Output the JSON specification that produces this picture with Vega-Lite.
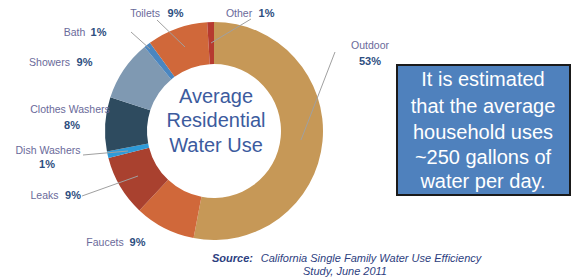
{
  "$schema": "https://vega.github.io/schema/vega-lite/v6.json",
  "width": 572,
  "height": 280,
  "autosize": {"type": "fit", "contains": "padding"},
  "padding": 0,
  "background": "white",
  "config": {"view": {"stroke": null}, "font": "Liberation Sans"},
  "datasets": {
    "slices": [
      {"name": "Outdoor", "value": 53, "order": 1},
      {"name": "Faucets", "value": 9, "order": 2},
      {"name": "Leaks", "value": 9, "order": 3},
      {"name": "Dish Washers", "value": 1, "order": 4},
      {"name": "Clothes Washers", "value": 8, "order": 5},
      {"name": "Showers", "value": 9, "order": 6},
      {"name": "Bath", "value": 1, "order": 7},
      {"name": "Toilets", "value": 9, "order": 8},
      {"name": "Other", "value": 1, "order": 9}
    ],
    "names": [
      {"text": "Toilets", "x": 145, "y": 14},
      {"text": "Other", "x": 239, "y": 14},
      {"text": "Bath", "x": 74.5, "y": 33},
      {"text": "Showers", "x": 49.5, "y": 63},
      {"text": "Clothes Washers", "x": 70, "y": 110},
      {"text": "Dish Washers", "x": 48, "y": 151},
      {"text": "Leaks", "x": 44.5, "y": 196},
      {"text": "Faucets", "x": 105, "y": 243},
      {"text": "Outdoor", "x": 370, "y": 46}
    ],
    "pcts": [
      {"text": "9%", "x": 175.5, "y": 14},
      {"text": "1%", "x": 266.5, "y": 14},
      {"text": "1%", "x": 98.5, "y": 33},
      {"text": "9%", "x": 84.5, "y": 63},
      {"text": "8%", "x": 72, "y": 126},
      {"text": "1%", "x": 47, "y": 165},
      {"text": "9%", "x": 73, "y": 196},
      {"text": "9%", "x": 137.5, "y": 243},
      {"text": "53%", "x": 370, "y": 62}
    ],
    "leaders": [
      {"x": 335, "y": 52, "x2": 301, "y2": 140},
      {"x": 251, "y": 19, "x2": 211, "y2": 43},
      {"x": 157, "y": 20, "x2": 185, "y2": 47},
      {"x": 131, "y": 32, "x2": 150, "y2": 49},
      {"x": 83, "y": 155, "x2": 128, "y2": 151},
      {"x": 82, "y": 196, "x2": 138, "y2": 176}
    ],
    "center": [
      {"text": "Average", "x": 216, "y": 97},
      {"text": "Residential", "x": 216, "y": 121},
      {"text": "Water Use", "x": 216, "y": 146}
    ],
    "box": [{"x": 397, "y": 65, "x2": 570, "y2": 195}],
    "boxlines": [
      {"text": "It is estimated", "x": 483, "y": 80},
      {"text": "that the average", "x": 483, "y": 107},
      {"text": "household uses", "x": 483, "y": 133},
      {"text": "~250 gallons of", "x": 483, "y": 158},
      {"text": "water per day.", "x": 483, "y": 182}
    ],
    "sourcehead": [
      {"text": "Source:", "x": 232.5, "y": 259}
    ],
    "source": [
      {"text": "California Single Family Water Use Efficiency", "x": 371, "y": 259},
      {"text": "Study, June 2011", "x": 345, "y": 272}
    ]
  },
  "layer": [
    {
      "data": {"name": "slices"},
      "mark": {"type": "arc", "innerRadius": 67, "outerRadius": 109},
      "encoding": {
        "x": {"datum": 214, "type": "quantitative", "scale": {"domain": [0, 572], "nice": false, "zero": false}, "axis": null},
        "y": {"datum": 131, "type": "quantitative", "scale": {"domain": [0, 280], "nice": false, "zero": false, "reverse": true}, "axis": null},
        "theta": {"field": "value", "type": "quantitative", "stack": true},
        "order": {"field": "order", "type": "quantitative"},
        "color": {
          "field": "name", "type": "nominal", "legend": null,
          "scale": {
            "domain": ["Outdoor", "Faucets", "Leaks", "Dish Washers", "Clothes Washers", "Showers", "Bath", "Toilets", "Other"],
            "range": ["#C69857", "#D0683A", "#A9412F", "#2E9AD8", "#2E4B5F", "#7F99B2", "#4A86C0", "#D0683A", "#B63A30"]
          }
        }
      }
    },
    {
      "data": {"name": "leaders"},
      "mark": {"type": "rule", "color": "#A0A0A0", "strokeWidth": 1},
      "encoding": {
        "x": {"field": "x", "type": "quantitative"},
        "y": {"field": "y", "type": "quantitative"},
        "x2": {"field": "x2"},
        "y2": {"field": "y2"}
      }
    },
    {
      "data": {"name": "names"},
      "mark": {"type": "text", "fontSize": 10.5, "color": "#6A6A9A", "baseline": "middle", "align": "center"},
      "encoding": {
        "x": {"field": "x", "type": "quantitative"},
        "y": {"field": "y", "type": "quantitative"},
        "text": {"field": "text"}
      }
    },
    {
      "data": {"name": "pcts"},
      "mark": {"type": "text", "fontSize": 11, "fontWeight": "bold", "color": "#2D4E80", "baseline": "middle", "align": "center"},
      "encoding": {
        "x": {"field": "x", "type": "quantitative"},
        "y": {"field": "y", "type": "quantitative"},
        "text": {"field": "text"}
      }
    },
    {
      "data": {"name": "center"},
      "mark": {"type": "text", "fontSize": 20, "color": "#3C5B9E", "baseline": "middle", "align": "center"},
      "encoding": {
        "x": {"field": "x", "type": "quantitative"},
        "y": {"field": "y", "type": "quantitative"},
        "text": {"field": "text"}
      }
    },
    {
      "data": {"name": "box"},
      "mark": {"type": "rect", "fill": "#4F81BD", "stroke": "#1A1A1A", "strokeWidth": 2},
      "encoding": {
        "x": {"field": "x", "type": "quantitative"},
        "y": {"field": "y", "type": "quantitative"},
        "x2": {"field": "x2"},
        "y2": {"field": "y2"}
      }
    },
    {
      "data": {"name": "boxlines"},
      "mark": {"type": "text", "fontSize": 20, "color": "white", "baseline": "middle", "align": "center"},
      "encoding": {
        "x": {"field": "x", "type": "quantitative"},
        "y": {"field": "y", "type": "quantitative"},
        "text": {"field": "text"}
      }
    },
    {
      "data": {"name": "sourcehead"},
      "mark": {"type": "text", "fontSize": 11, "fontStyle": "italic", "fontWeight": "bold", "color": "#2D3E80", "baseline": "middle", "align": "center"},
      "encoding": {
        "x": {"field": "x", "type": "quantitative"},
        "y": {"field": "y", "type": "quantitative"},
        "text": {"field": "text"}
      }
    },
    {
      "data": {"name": "source"},
      "mark": {"type": "text", "fontSize": 11, "fontStyle": "italic", "color": "#2D3E80", "baseline": "middle", "align": "center"},
      "encoding": {
        "x": {"field": "x", "type": "quantitative"},
        "y": {"field": "y", "type": "quantitative"},
        "text": {"field": "text"}
      }
    }
  ]
}
